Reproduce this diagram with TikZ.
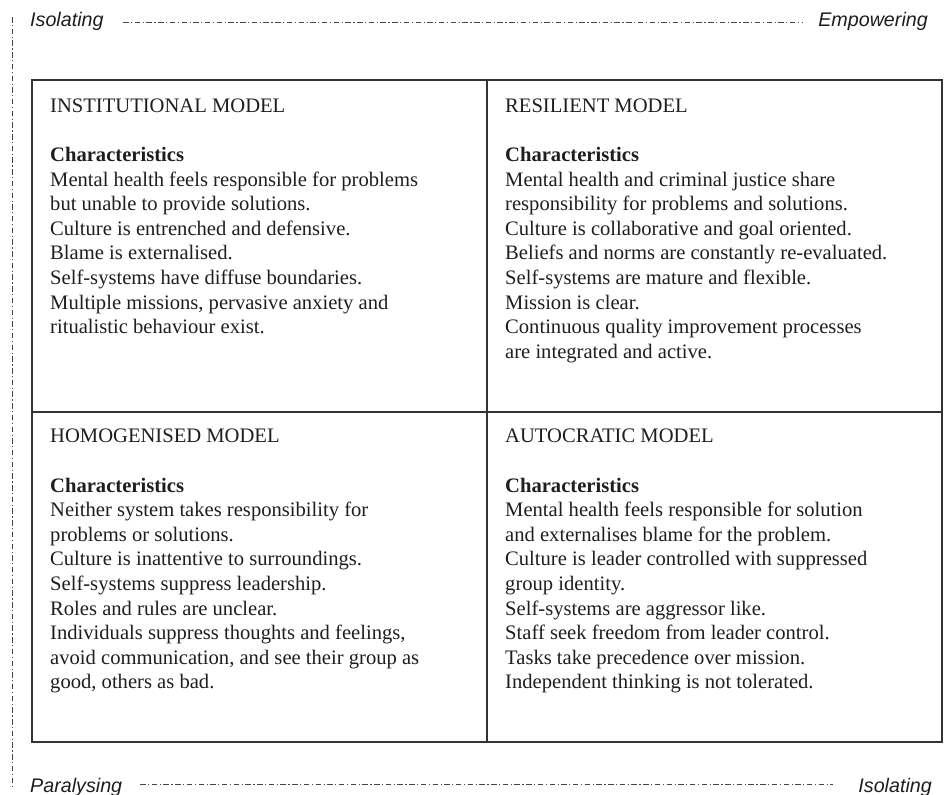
\documentclass[tikz,border=0pt]{standalone}
\usepackage{fontspec}
\setmainfont{Liberation Serif}
\newfontfamily\axisfont{Liberation Sans}
\definecolor{ink}{HTML}{1E1E1E}
\definecolor{rule}{HTML}{333333}
\definecolor{axisline}{HTML}{444444}
\begin{document}
\begin{tikzpicture}[x=1pt,y=-1pt,
  cellframe/.style={draw=rule,line width=1.3pt},
  cell/.style={anchor=north west,inner sep=0pt,align=left,text=ink,
    font=\fontsize{20.6}{24.6}\selectfont},
  axislabel/.style={inner sep=0pt,text=ink,
    font=\axisfont\itshape\fontsize{19.7}{22}\selectfont},
  axis/.style={draw=axisline,line width=0.9pt,
    dash pattern=on 5.5pt off 2.5pt on 1.2pt off 2.5pt}]
\useasboundingbox (0,0) rectangle (951,795);

% quadrant grid
\draw[cellframe] (32,80) rectangle (942,742);
\draw[cellframe] (487,80) -- (487,742);
\draw[cellframe] (32,412) -- (942,412);

% quadrant texts
\node[cell] (inst) at (50,98.5) {INSTITUTIONAL MODEL\\[24.6pt]
\textbf{Characteristics}\\
Mental health feels responsible for problems\\
but unable to provide solutions.\\
Culture is entrenched and defensive.\\
Blame is externalised.\\
Self-systems have diffuse boundaries.\\
Multiple missions, pervasive anxiety and\\
ritualistic behaviour exist.};

\node[cell] (resil) at (505,98.5) {RESILIENT MODEL\\[24.6pt]
\textbf{Characteristics}\\
Mental health and criminal justice share\\
responsibility for problems and solutions.\\
Culture is collaborative and goal oriented.\\
Beliefs and norms are constantly re-evaluated.\\
Self-systems are mature and flexible.\\
Mission is clear.\\
Continuous quality improvement processes\\
are integrated and active.};

\node[cell] (homog) at (50,429) {HOMOGENISED MODEL\\[24.6pt]
\textbf{Characteristics}\\
Neither system takes responsibility for\\
problems or solutions.\\
Culture is inattentive to surroundings.\\
Self-systems suppress leadership.\\
Roles and rules are unclear.\\
Individuals suppress thoughts and feelings,\\
avoid communication, and see their group as\\
good, others as bad.};

\node[cell] (autoc) at (505,429) {AUTOCRATIC MODEL\\[24.6pt]
\textbf{Characteristics}\\
Mental health feels responsible for solution\\
and externalises blame for the problem.\\
Culture is leader controlled with suppressed\\
group identity.\\
Self-systems are aggressor like.\\
Staff seek freedom from leader control.\\
Tasks take precedence over mission.\\
Independent thinking is not tolerated.};

% axis labels
\node[axislabel,anchor=base west] (isoTop) at (30,27) {Isolating};
\node[axislabel,anchor=base east] (empow) at (928,27) {Empowering};
\node[axislabel,anchor=base west] (paral) at (30,792) {Paralysing};
\node[axislabel,anchor=base east] (isoBot) at (932,792) {Isolating};

% dash-dot axes
\coordinate (topL) at (123,22);
\coordinate (topR) at (802,22);
\coordinate (botL) at (140,784);
\coordinate (botR) at (833,784);
\coordinate (sideT) at (12,17);
\coordinate (sideB) at (12,788);
\draw[axis] (topL) -- (topR);
\draw[axis] (botL) -- (botR);
\draw[axis] (sideT) -- (sideB);
\end{tikzpicture}
\end{document}
